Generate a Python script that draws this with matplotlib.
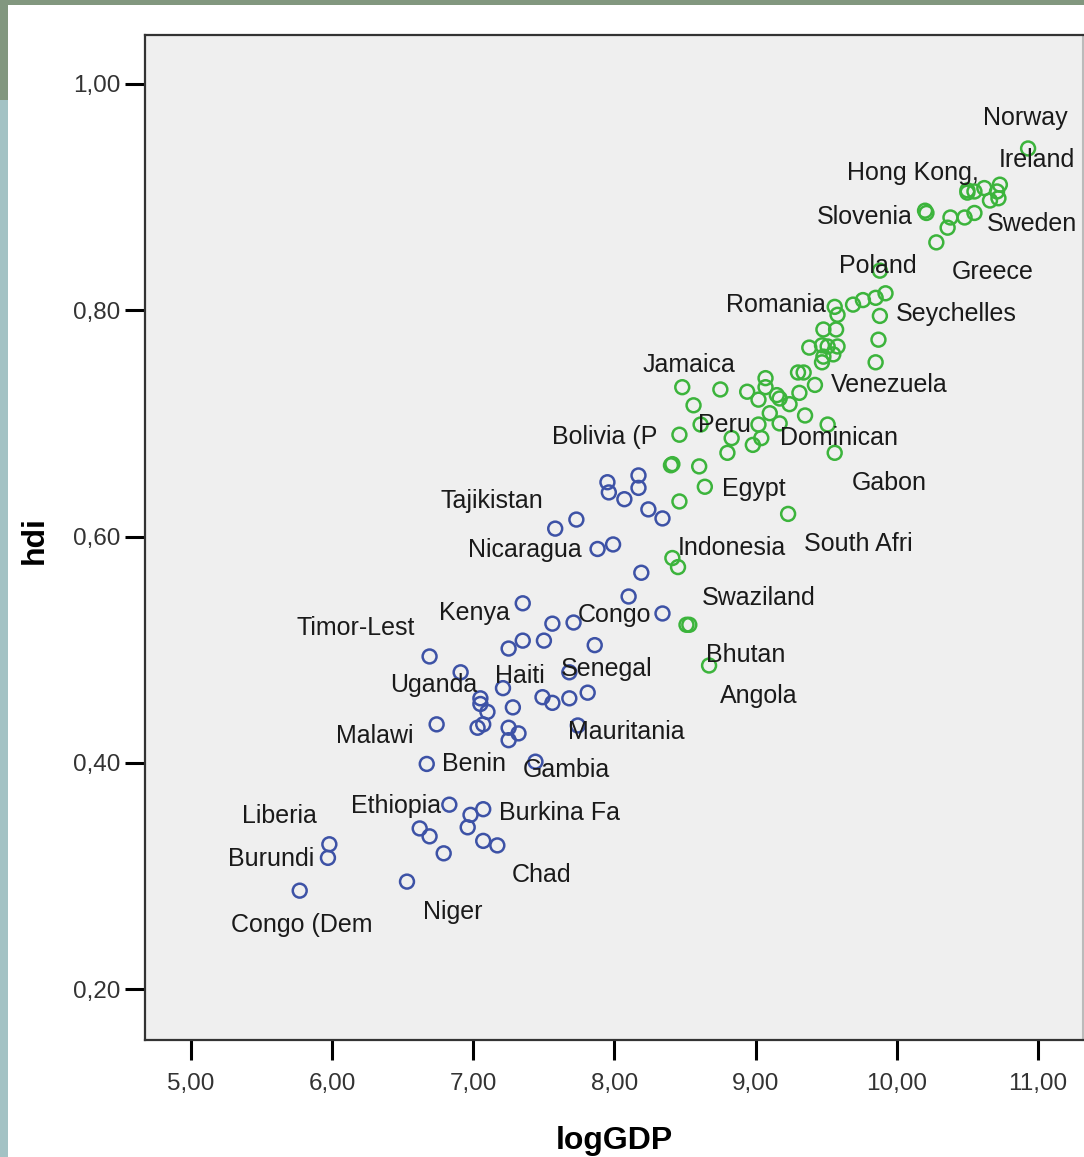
import matplotlib.pyplot as plt
from matplotlib.patches import Rectangle
import numpy as np

# low-income group (blue)
blue_gdp = [7.95, 8.17, 7.96, 8.17, 8.07, 8.24, 8.34, 7.73, 7.58, 7.88, 7.99, 8.19, 8.10,
            8.34, 7.35, 7.56, 7.71, 7.50, 7.35, 7.25, 7.86, 6.69, 6.91, 7.21, 7.68, 7.05,
            7.05, 7.10, 7.28, 7.49, 7.56, 7.68, 7.81, 6.74, 7.03, 7.07, 7.25, 7.32, 7.25,
            7.74, 6.67, 7.44, 6.83, 6.98, 7.07, 6.96, 6.62, 6.69, 6.79, 7.07, 7.17, 5.98,
            5.97, 5.77, 6.53]
blue_hdi = [0.648, 0.654, 0.639, 0.643, 0.633, 0.624, 0.616, 0.615, 0.607, 0.589, 0.593,
            0.568, 0.547, 0.532, 0.541, 0.523, 0.524, 0.508, 0.508, 0.501, 0.504, 0.494,
            0.480, 0.466, 0.480, 0.457, 0.452, 0.445, 0.449, 0.458, 0.453, 0.457, 0.462,
            0.434, 0.431, 0.434, 0.431, 0.426, 0.420, 0.433, 0.399, 0.401, 0.363, 0.354,
            0.359, 0.343, 0.342, 0.335, 0.320, 0.331, 0.327, 0.328, 0.316, 0.287, 0.295]

# higher-income group (green)
green_gdp = [10.93, 10.50, 10.55, 10.50, 10.62, 10.73, 10.71, 10.72, 10.66, 10.21, 10.20,
             10.38, 10.36, 10.48, 10.55, 10.28, 9.88, 9.56, 9.58, 9.69, 9.76, 9.85, 9.92,
             9.88, 9.87, 9.85, 9.48, 9.57, 9.38, 9.47, 9.51, 9.58, 9.48, 9.55, 9.47, 9.30,
             9.34, 9.42, 9.07, 9.07, 8.75, 8.94, 9.15, 8.48, 8.56, 9.02, 9.17, 9.10, 9.24,
             9.31, 9.35, 9.17, 9.02, 9.04, 8.98, 8.80, 8.83, 8.61, 8.46, 9.51, 9.56, 8.40,
             8.41, 8.60, 8.64, 8.46, 9.23, 8.41, 8.45, 8.51, 8.53, 8.67]
green_hdi = [0.943, 0.906, 0.905, 0.904, 0.908, 0.911, 0.905, 0.899, 0.897, 0.886, 0.888,
             0.882, 0.873, 0.882, 0.886, 0.860, 0.835, 0.803, 0.796, 0.805, 0.809, 0.811,
             0.815, 0.795, 0.774, 0.754, 0.783, 0.783, 0.767, 0.769, 0.768, 0.768, 0.759,
             0.761, 0.754, 0.745, 0.745, 0.734, 0.740, 0.732, 0.730, 0.728, 0.725, 0.732,
             0.716, 0.721, 0.722, 0.709, 0.717, 0.727, 0.707, 0.700, 0.699, 0.687, 0.681,
             0.674, 0.687, 0.699, 0.690, 0.699, 0.674, 0.663, 0.664, 0.662, 0.644, 0.631,
             0.620, 0.581, 0.573, 0.522, 0.522, 0.486]

# point labels (truncated as in the original)
label_names = ["Norway", "Ireland", "Hong Kong,", "Slovenia", "Sweden", "Poland", "Greece",
               "Romania", "Seychelles", "Jamaica", "Venezuela", "Bolivia (P", "Peru",
               "Dominican", "Gabon", "Egypt", "Tajikistan", "Nicaragua", "Indonesia",
               "South Afri", "Swaziland", "Kenya", "Congo", "Timor-Lest", "Bhutan",
               "Senegal", "Haiti", "Uganda", "Angola", "Malawi", "Mauritania", "Benin",
               "Gambia", "Ethiopia", "Burkina Fa", "Liberia", "Burundi", "Chad", "Niger",
               "Congo (Dem"]
label_x = [10.61, 10.72, 9.65, 9.43, 10.64, 9.59, 10.39, 8.79, 9.99, 8.20, 9.53, 7.56, 8.59,
           9.17, 9.68, 8.76, 6.77, 6.96, 8.45, 9.34, 8.62, 6.76, 7.74, 5.75, 8.65, 7.62,
           7.15, 6.41, 8.75, 6.03, 7.67, 6.78, 7.35, 6.13, 7.18, 5.36, 5.26, 7.27, 6.64,
           5.28]
label_y = [0.970, 0.933, 0.921, 0.882, 0.876, 0.839, 0.834, 0.805, 0.797, 0.752, 0.734,
           0.688, 0.699, 0.687, 0.647, 0.642, 0.631, 0.588, 0.590, 0.593, 0.546, 0.532,
           0.531, 0.519, 0.495, 0.483, 0.477, 0.469, 0.459, 0.424, 0.427, 0.399, 0.394,
           0.362, 0.356, 0.353, 0.315, 0.301, 0.268, 0.257]

xticks = [5, 6, 7, 8, 9, 10, 11]
yticks = [0.2, 0.4, 0.6, 0.8, 1.0]

plt.rcParams['font.family'] = ['Liberation Sans', 'DejaVu Sans']

fig = plt.figure(figsize=(10.84, 11.57), dpi=100)
fig.patch.set_facecolor('white')

# slide background remnants on the edges
fig.patches.append(Rectangle((0, 1 - 5 / 1157), 1, 5 / 1157, transform=fig.transFigure,
                             facecolor='#82977f', edgecolor='none', zorder=0))
fig.patches.append(Rectangle((0, 1 - 100 / 1157), 8 / 1084, 100 / 1157, transform=fig.transFigure,
                             facecolor='#82977f', edgecolor='none', zorder=0))
fig.patches.append(Rectangle((0, 0), 8 / 1084, 1 - 100 / 1157, transform=fig.transFigure,
                             facecolor='#a3c2c4', edgecolor='none', zorder=0))

ax = fig.add_axes([145 / 1084, 1 - 1040 / 1157, 938 / 1084, 1005 / 1157])
ax.set_facecolor('#efefef')

ax.scatter(blue_gdp, blue_hdi, s=100, facecolors='none', edgecolors='#3d52a6', linewidths=1.8, zorder=3)
ax.scatter(green_gdp, green_hdi, s=100, facecolors='none', edgecolors='#3cb43c', linewidths=1.8, zorder=3)

for name, lx, ly in zip(label_names, label_x, label_y):
    ax.text(lx, ly, name, ha='left', va='center', fontsize=18, color='#1a1a1a', zorder=4)

ax.set_xlim(4.674, 11.319)
ax.set_ylim(0.155, 1.0433)
ax.set_xticks(xticks)
ax.set_yticks(yticks)
ax.set_xticklabels([('%.2f' % v).replace('.', ',') for v in xticks])
ax.set_yticklabels([('%.2f' % v).replace('.', ',') for v in yticks])
ax.tick_params(direction='out', length=14.5, width=2.2, color='black', labelsize=17.5,
               labelcolor='#333333')
ax.tick_params(axis='x', pad=9)
ax.tick_params(axis='y', pad=3)

for side in ['left', 'bottom', 'top']:
    ax.spines[side].set_color('#333333')
    ax.spines[side].set_linewidth(1.6)
ax.spines['right'].set_color('#bbbbbb')
ax.spines['right'].set_linewidth(1.5)

ax.set_xlabel('logGDP', fontsize=23, fontweight='bold', va='top')
ax.set_ylabel('hdi', fontsize=23, fontweight='bold')
ax.xaxis.set_label_coords(0.5, -0.086)
ax.yaxis.set_label_coords(-0.102, 0.497)

fig.savefig('out.png', dpi=100)
plt.close()
